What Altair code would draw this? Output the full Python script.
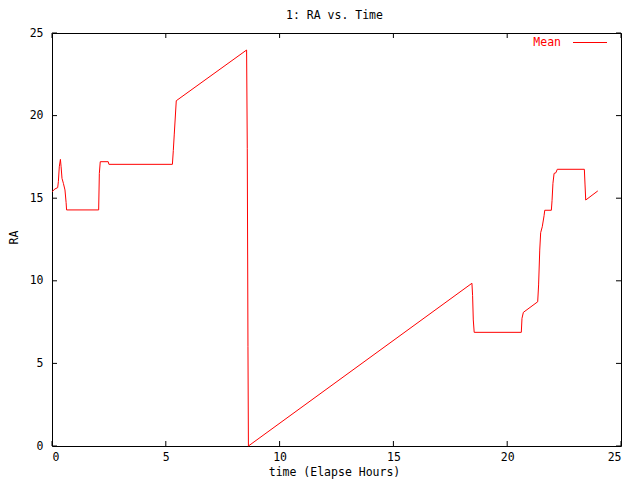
import altair as alt
import pandas as pd

# Series "Mean": elapsed hours vs RA
time_h = [0.0, 0.13, 0.25, 0.28, 0.32, 0.37, 0.40, 0.44, 0.50, 0.57, 0.62, 0.64,
          2.05, 2.08, 2.12, 2.47, 2.50, 5.29, 5.33, 5.37, 5.46, 8.55, 8.58, 8.61, 8.63,
          18.45, 18.48, 18.51, 18.55, 20.62, 20.65, 20.71, 21.34, 21.38, 21.43, 21.47,
          21.54, 21.62, 21.65, 21.94, 21.97, 22.01, 22.06, 22.14, 22.20, 23.39, 23.42,
          23.45, 23.98]
ra = [15.39, 15.56, 15.64, 16.0, 16.9, 17.35, 16.9, 16.2, 15.9, 15.5, 14.73, 14.29,
      14.29, 16.5, 17.21, 17.21, 17.05, 17.05, 17.88, 18.83, 20.9, 23.97, 18.02, 6.01, 0.0,
      9.85, 9.1, 7.63, 6.88, 6.88, 7.73, 8.09, 8.73, 9.75, 11.86, 12.91,
      13.27, 13.94, 14.27, 14.27, 14.85, 15.9, 16.5, 16.54, 16.75, 16.75, 15.8,
      14.89, 15.44]

x_ticks = [0, 5, 10, 15, 20, 25]
y_ticks = [0, 5, 10, 15, 20, 25]
series_name = "Mean"
chart_title = "1: RA vs. Time"
x_title = "time (Elapse Hours)"
y_title = "RA"

W, H = 569, 413
FONT = "DejaVu Sans Mono"
FS = 11.5

df = pd.DataFrame({"t": time_h, "ra": ra, "order": range(len(time_h))})
xt = pd.DataFrame({"v": x_ticks})
yt = pd.DataFrame({"v": y_ticks})

xscale = alt.Scale(domain=[0, 25], nice=False, zero=False)
yscale = alt.Scale(domain=[0, 25], nice=False, zero=False)

line = alt.Chart(df).mark_line(color="#ff0000", strokeWidth=1).encode(
    x=alt.X("t:Q", scale=xscale,
            axis=alt.Axis(values=x_ticks, title=None, ticks=False,
                          domain=False, grid=False, labelPadding=5,
                          labelFont=FONT, labelFontSize=FS, labelColor="black")),
    y=alt.Y("ra:Q", scale=yscale,
            axis=alt.Axis(values=y_ticks, title=None, ticks=False, domain=False,
                          grid=False, labelPadding=9,
                          labelFont=FONT, labelFontSize=FS, labelColor="black")),
    order="order:Q",
)

tb = alt.Chart(xt).mark_rule(color="black", strokeWidth=1).encode(
    x=alt.X("v:Q", scale=xscale), y=alt.value(H), y2=alt.value(H - 5))
tt = alt.Chart(xt).mark_rule(color="black", strokeWidth=1).encode(
    x=alt.X("v:Q", scale=xscale), y=alt.value(0), y2=alt.value(5))
tl = alt.Chart(yt).mark_rule(color="black", strokeWidth=1).encode(
    y=alt.Y("v:Q", scale=yscale), x=alt.value(0), x2=alt.value(5))
tr = alt.Chart(yt).mark_rule(color="black", strokeWidth=1).encode(
    y=alt.Y("v:Q", scale=yscale), x=alt.value(W), x2=alt.value(W - 5))

txt_df = pd.DataFrame({"title": [chart_title], "xt": [x_title], "yt": [y_title],
                       "name": [series_name]})

title_mark = alt.Chart(txt_df).mark_text(font=FONT, fontSize=FS, color="black",
                                          align="center", baseline="middle").encode(
    text="title:N", x=alt.value(W / 2 - 2), y=alt.value(-17))
xtitle_mark = alt.Chart(txt_df).mark_text(font=FONT, fontSize=FS, color="black",
                                           align="center", baseline="middle").encode(
    text="xt:N", x=alt.value(W / 2 - 2), y=alt.value(H + 27))
ytitle_mark = alt.Chart(txt_df).mark_text(font=FONT, fontSize=FS, color="black",
                                           align="center", baseline="middle",
                                           angle=270).encode(
    text="yt:N", x=alt.value(-37), y=alt.value(H / 2 - 2))

leg_text = alt.Chart(txt_df).mark_text(color="#ff0000", font=FONT, fontSize=FS,
                                        align="right", baseline="middle").encode(
    text="name:N", x=alt.value(509), y=alt.value(9.5))
leg_line = alt.Chart(txt_df).mark_rule(color="#ff0000", strokeWidth=1).encode(
    x=alt.value(521), x2=alt.value(555), y=alt.value(9.5))

chart = alt.layer(line, tb, tt, tl, tr, title_mark, xtitle_mark, ytitle_mark,
                  leg_text, leg_line).properties(
    width=W, height=H,
    background="white",
    autosize=alt.AutoSizeParams(type="none"),
    padding={"left": 44, "top": 25, "right": 3, "bottom": 34},
).configure_view(stroke="black", strokeWidth=1)

chart.save("out.html", embed_options={"renderer": "svg", "actions": False})
